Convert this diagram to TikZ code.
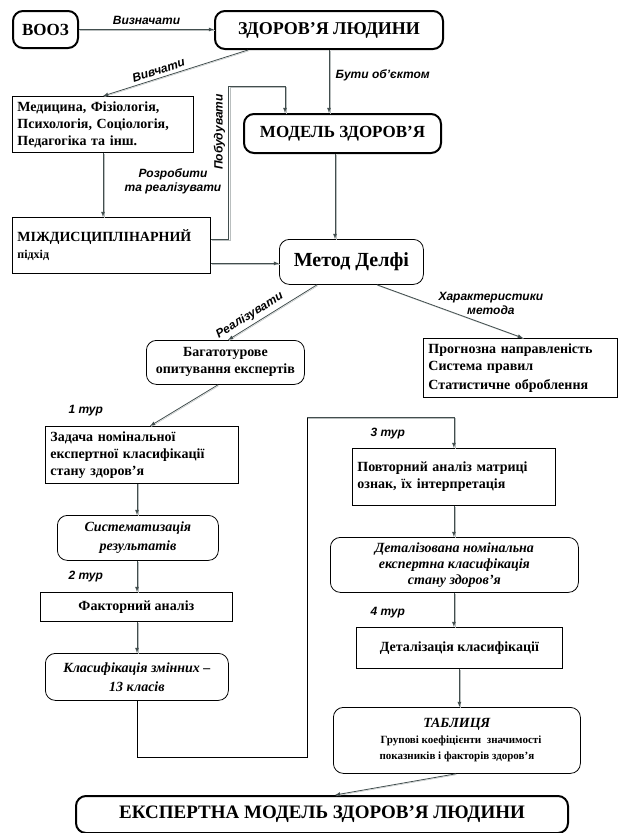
\documentclass[tikz,border=0pt]{standalone}
\usepackage{fontspec}
\setmainfont{Liberation Serif}
\setsansfont{Liberation Sans}
\usepackage{tikz}
\usetikzlibrary{arrows,positioning,calc}
\definecolor{linkgray}{RGB}{66,78,78}
\definecolor{shadegray}{RGB}{185,190,190}
\newcommand\fsz[2]{\fontsize{#1}{#2}\selectfont}
\tikzstyle{plainbox}=[draw,line width=0.8pt,inner sep=5pt,anchor=north west,font=\bfseries\fsz{14}{17}]
\tikzstyle{roundbox}=[plainbox,rounded corners=10pt]
\tikzstyle{mainbox}=[plainbox,line width=2pt,rounded corners=10pt]
\tikzstyle{link}=[draw=linkgray,line width=0.8pt,-latex,preaction={draw=shadegray,-,transform canvas={shift={(0.9pt,-0.9pt)}}}]
\tikzstyle{lbl}=[font=\sffamily\bfseries\itshape\fsz{12}{14}]

\begin{document}
\begin{tikzpicture}[x=1pt,y=-1pt]
\useasboundingbox (0,0) rectangle (620,833);
% top row
\node[mainbox,minimum width=65pt,minimum height=37pt,font=\bfseries\fsz{17}{20}] (vooz) at (12,10) {ВООЗ};
\node[mainbox,minimum width=228pt,minimum height=38pt,font=\bfseries\fsz{18}{21}] (zdorov) at (214,10) {ЗДОРОВ’Я ЛЮДИНИ};
\node[plainbox,minimum height=56pt,text width=171pt,align=left] (nauky) at (12,96)
  {Медицина, Фізіологія,\\Психологія, Соціологія,\\Педагогіка та інш.};
\node[mainbox,minimum width=197pt,minimum height=39pt,font=\bfseries\fsz{17}{20}] (model) at (243,113) {МОДЕЛЬ ЗДОРОВ’Я};
\node[plainbox,minimum height=56pt,text width=188pt,align=left] (mizhd) at (12,217)
  {МІЖДИСЦИПЛІНАРНИЙ\\{\fsz{12}{16}підхід}};
\node[roundbox,minimum width=144pt,minimum height=45pt,font=\bfseries\fsz{20}{24}] (delfi) at (279,239) {Метод Делфі};
% method
\node[roundbox,minimum width=158pt,minimum height=44pt,align=center] (opyt) at (146,340)
  {Багатотурове\\опитування експертів};
\node[plainbox,minimum height=55pt,text width=184pt,align=left] (kharakt) at (423,338)
  {Прогнозна направленість\\Система правил\\[2pt]Статистичне оброблення};
% left column
\node[plainbox,minimum height=56pt,text width=183pt,align=left] (zadacha) at (45,426)
  {Задача номінальної\\експертної класифікації\\стану здоров’я};
\node[roundbox,minimum width=161pt,minimum height=45pt,align=center,font=\bfseries\itshape\fsz{14}{19}] (system) at (57,515)
  {Систематизація\\результатів};
\node[plainbox,minimum width=192pt,minimum height=29pt] (faktor) at (40,592) {Факторний аналіз};
\node[roundbox,minimum width=183pt,minimum height=47pt,align=center,font=\bfseries\itshape\fsz{14}{19}] (klas) at (45,653)
  {Класифікація змінних –\\13 класів};
% right column
\node[plainbox,minimum height=57pt,text width=193pt,align=left] (povtor) at (352,448)
  {Повторний аналіз матриці\\ознак, їх інтерпретація};
\node[roundbox,minimum width=248pt,minimum height=55pt,align=center,font=\bfseries\itshape\fsz{14}{16}] (detaliz) at (330,537)
  {Деталізована номінальна\\експертна класифікація\\стану здоров’я};
\node[plainbox,minimum width=206pt,minimum height=41pt] (detklas) at (356,627) {Деталізація класифікації};
\node[roundbox,minimum width=247pt,minimum height=66pt,align=center,font=\bfseries\fsz{11}{16}] (tablytsia) at (333,707)
  {{\itshape\fsz{14}{18}ТАБЛИЦЯ}\\\ \ \ Групові коефіцієнти\ \ значимості\\показників і факторів здоров’я};
\node[mainbox,minimum width=492pt,minimum height=37pt,font=\bfseries\fsz{19}{22}] (ekspert) at (75,795) {ЕКСПЕРТНА МОДЕЛЬ ЗДОРОВ’Я ЛЮДИНИ};
% rounds
\node[lbl,anchor=south west] (tur1) at ([xshift=20pt,yshift=6pt]zadacha.north west) {1 тур};
\node[lbl,anchor=south west] (tur2) at ([xshift=25pt,yshift=6pt]faktor.north west) {2 тур};
\node[lbl,anchor=south west] (tur3) at ([xshift=15pt,yshift=5pt]povtor.north west) {3 тур};
\node[lbl,anchor=south west] (tur4) at ([xshift=11pt,yshift=5pt]detklas.north west) {4 тур};
\coordinate (bend) at (285,86);
\coordinate (loopbot) at (307,757);
\coordinate (looptop) at (307,417);
% connectors
\draw[link] (vooz.east) -- (vooz.east -| zdorov.west) node[lbl,midway,above=1pt] {Визначати};
\draw[link] ([xshift=34pt]zdorov.south west) -- ([xshift=91pt]nauky.north west) node[lbl,pos=0.6,sloped,above] {Вивчати};
\draw[link] (zdorov.south) -- (zdorov.south |- model.north) node[lbl,pos=0.4,right=3pt] {Бути об’єктом};
\draw[link] ([xshift=91pt]nauky.south west) coordinate (n1) -- (n1 |- mizhd.north)
  node[lbl,pos=0.45,right=18pt,align=center] {Розробити\\та реалізувати};
\draw[link] ([yshift=6pt]mizhd.east) -- ++(18,0) coordinate (p1) -- (p1 |- bend) node[lbl,pos=0.7,sloped,above] {Побудувати}
  -- (bend) -- (bend |- model.north);
\draw[link] ([xshift=92pt]model.south west) coordinate (m1) -- (m1 |- delfi.north);
\draw[link] ([yshift=-18pt]mizhd.east) -- ([yshift=-18pt]mizhd.east -| delfi.west);
\draw[link] ([xshift=38pt]delfi.south west) -- ([xshift=82pt]opyt.north west) node[lbl,pos=0.7,sloped,above] {Реалізувати};
\draw[link] ([xshift=98pt]delfi.south west) -- ([xshift=100pt]kharakt.north west)
  node[lbl,pos=0.78,above=8pt,align=center] {Характеристики\\метода};
\draw[link] ([xshift=72pt]opyt.south west) -- ([xshift=105pt]zadacha.north west);
\draw[link] ([xshift=92pt]zadacha.south west) coordinate (z1) -- (z1 |- system.north);
\draw[link] ([xshift=80pt]system.south west) coordinate (s1) -- (s1 |- faktor.north);
\draw[link] ([xshift=97pt]faktor.south west) coordinate (f1) -- (f1 |- klas.north);
\draw (klas.south -| f1) |- (loopbot) -- (looptop);
\draw[link] (looptop) -| (povtor.north);
\draw[link] (povtor.south) -- (povtor.south |- detaliz.north);
\draw[link] (povtor.south |- detaliz.south) -- (povtor.south |- detklas.north);
\draw[link] (detklas.south) -- (detklas.south |- tablytsia.north);
\draw[link] ([xshift=-1pt]tablytsia.south) -- ([xshift=260pt]ekspert.north west);
\end{tikzpicture}
\end{document}
